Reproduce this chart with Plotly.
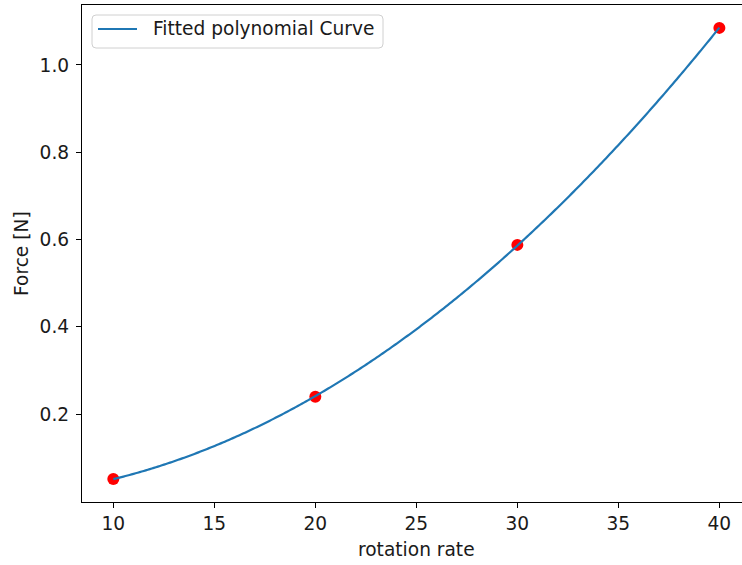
import numpy as np
import plotly.graph_objects as go

# Measured force at each rotation rate
rotation_rate = [10, 20, 30, 40]
force = [0.052, 0.240, 0.588, 1.085]

x_ticks = [10, 15, 20, 25, 30, 35, 40]
y_ticks = [0.2, 0.4, 0.6, 0.8, 1.0]

CURVE_LABEL = "Fitted polynomial Curve"

# Polynomial fit through the measurements
coeffs = np.polyfit(rotation_rate, force, 2)
x_fit = np.linspace(min(rotation_rate), max(rotation_rate), 300)
y_fit = np.polyval(coeffs, x_fit)

FONT = "DejaVu Sans"
FS = 18.6
TXT = "#1a1a1a"
BLUE = "#1f77b4"

W, H = 742, 565
ML, MR, MT, MB = 82, 0, 5, 63
plot_w = W - ML - MR
plot_h = H - MT - MB


def px(x):
    """Horizontal pixel position -> paper fraction."""
    return (x - ML) / plot_w


def py(y):
    """Vertical pixel position -> paper fraction."""
    return 1 - (y - MT) / plot_h


fig = go.Figure()
fig.add_trace(go.Scatter(
    x=rotation_rate, y=force, mode="markers",
    marker=dict(color="red", size=12, line=dict(width=0)),
    showlegend=False,
))
fig.add_trace(go.Scatter(
    x=x_fit, y=y_fit, mode="lines",
    line=dict(color=BLUE, width=2.2, simplify=False),
    name=CURVE_LABEL, showlegend=False,
))

axis_common = dict(
    showgrid=False, zeroline=False,
    showline=True, linecolor="black", linewidth=1.2,
    ticks="outside", ticklen=5, tickwidth=1.2, tickcolor="black",
    tickfont=dict(family=FONT, size=FS, color=TXT),
)

# Legend box drawn as a rounded rectangle in the upper-left corner
x0, x1, y0, y1, r = 92, 383, 15, 48, 4
rx, ry = r / plot_w, r / plot_h
X0, X1, Y0, Y1 = px(x0), px(x1), py(y0), py(y1)
legend_path = (
    f"M{X0 + rx},{Y0} L{X1 - rx},{Y0} Q{X1},{Y0} {X1},{Y0 - ry} "
    f"L{X1},{Y1 + ry} Q{X1},{Y1} {X1 - rx},{Y1} "
    f"L{X0 + rx},{Y1} Q{X0},{Y1} {X0},{Y1 + ry} "
    f"L{X0},{Y0 - ry} Q{X0},{Y0} {X0 + rx},{Y0} Z"
)

shapes = [
    dict(type="path", path=legend_path, xref="paper", yref="paper",
         line=dict(color="#d0d0d0", width=1), fillcolor="rgba(255,255,255,0.8)",
         layer="above"),
    dict(type="line", xref="paper", yref="paper",
         x0=px(98), x1=px(137), y0=py(29), y1=py(29),
         line=dict(color=BLUE, width=2.2), layer="above"),
]

fig.update_layout(
    width=W, height=H,
    margin=dict(l=ML, r=MR, t=MT, b=MB),
    paper_bgcolor="white", plot_bgcolor="white",
    font=dict(family=FONT, size=FS, color=TXT),
    showlegend=False,
    xaxis=dict(range=[8.45, 41.12], tickvals=x_ticks, mirror=True, **axis_common),
    yaxis=dict(range=[-0.0009, 1.1374], tickvals=y_ticks, tickformat=".1f",
               ticklabelstandoff=3, **axis_common),
    shapes=shapes,
    annotations=[
        dict(text=CURVE_LABEL, x=px(151), y=py(29), xref="paper", yref="paper",
             showarrow=False, xanchor="left", yanchor="middle",
             font=dict(family=FONT, size=FS, color=TXT)),
        dict(text="rotation rate", x=25, y=py(549), xref="x", yref="paper",
             showarrow=False, font=dict(family=FONT, size=FS, color=TXT),
             yanchor="middle", xanchor="center"),
        dict(text="Force [N]", x=px(21.5), y=py(253.5),
             xref="paper", yref="paper",
             showarrow=False, textangle=-90, xanchor="center", yanchor="middle",
             font=dict(family=FONT, size=FS, color=TXT)),
    ],
)

fig.write_html("out.html")
